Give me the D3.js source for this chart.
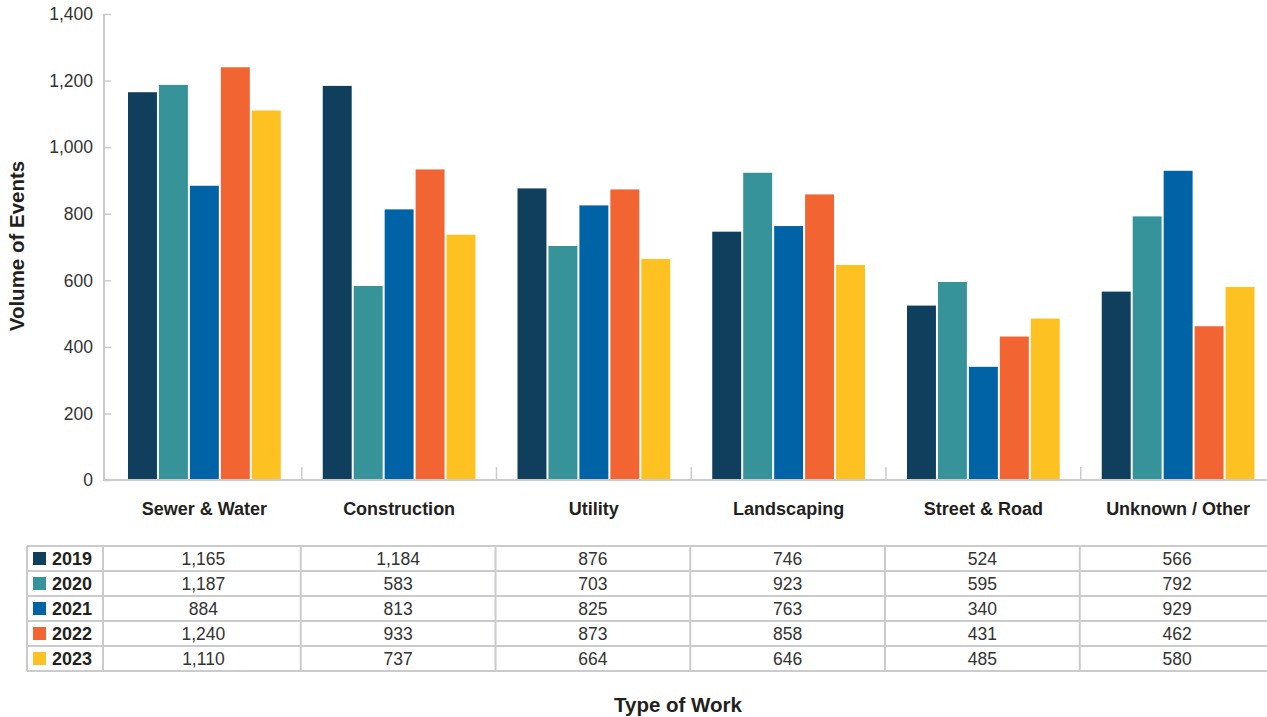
<!DOCTYPE html>
<html>
<head>
<meta charset='UTF-8'>
<title>Volume of Events by Type of Work</title>
<script src='https://cdn.jsdelivr.net/npm/d3@7'></script>
<style type='text/css'>
    body { margin: 0; background: #fff; }
    text { font-family: "Liberation Sans", Arial, Helvetica, sans-serif; fill: #231f20; }
</style>
</head>
<body>
<div id="container"></div>
<script>
// data
var categories = ["Sewer & Water", "Construction", "Utility", "Landscaping", "Street & Road", "Unknown / Other"];
var years = ["2019", "2020", "2021", "2022", "2023"];
var v2019 = [1165, 1184, 876, 746, 524, 566];
var v2020 = [1187, 583, 703, 923, 595, 792];
var v2021 = [884, 813, 825, 763, 340, 929];
var v2022 = [1240, 933, 873, 858, 431, 462];
var v2023 = [1110, 737, 664, 646, 485, 580];
var yTicks = [0, 200, 400, 600, 800, 1000, 1200, 1400];
var colors = ["#0f3f5c", "#37939a", "#0063a6", "#f26532", "#fdc121"];

var series = [v2019, v2020, v2021, v2022, v2023];
var rows = [];
years.forEach(function(y, i) {
    categories.forEach(function(c, j) {
        rows.push({year: y, cat: c, value: series[i][j], yi: i});
    });
});

var width = 1267, height = 717;
var gridColor = "#cbcbce";
var fmt = d3.format(",");

var svg = d3.select("#container").append("svg")
    .attr("width", width)
    .attr("height", height);

// scales
var x = d3.scaleBand()
    .domain(categories)
    .range([107, 1275.5]);

var x1 = d3.scaleBand()
    .domain(years)
    .range([21, x.bandwidth() - 21])
    .paddingInner(0.065);

var y = d3.scaleLinear()
    .domain([0, 1400])
    .range([480, 14]);

// bars
svg.append("g").selectAll("rect")
    .data(rows)
    .enter().append("rect")
    .attr("x", function(d) { return x(d.cat) + x1(d.year); })
    .attr("y", function(d) { return y(d.value); })
    .attr("width", x1.bandwidth())
    .attr("height", function(d) { return y(0) - y(d.value); })
    .attr("fill", function(d) { return colors[d.yi]; });

// y axis
var yAxis = svg.append("g")
    .attr("transform", "translate(104,0)")
    .call(d3.axisRight(y).tickValues(yTicks).tickSize(7).tickFormat(""));
yAxis.select(".domain").attr("stroke", gridColor).attr("stroke-width", 2).attr("d", "M0," + y(1400) + "V" + y(0));
yAxis.selectAll(".tick line").attr("stroke", gridColor).attr("stroke-width", 1.5);

svg.append("g").selectAll("text")
    .data(yTicks)
    .enter().append("text")
    .attr("x", 93)
    .attr("y", function(d) { return y(d); })
    .attr("dy", "0.36em")
    .attr("text-anchor", "end")
    .style("font-size", "17.5px")
    .style("fill", "#333")
    .text(function(d) { return fmt(d); });

// x axis baseline and category separators
svg.append("line")
    .attr("x1", 103).attr("x2", width)
    .attr("y1", y(0)).attr("y2", y(0))
    .attr("stroke", gridColor).attr("stroke-width", 2);

svg.append("g").selectAll("line")
    .data(categories.slice(1))
    .enter().append("line")
    .attr("x1", function(d) { return x(d); })
    .attr("x2", function(d) { return x(d); })
    .attr("y1", y(0) - 13)
    .attr("y2", y(0))
    .attr("stroke", gridColor).attr("stroke-width", 1.5);

svg.append("g").selectAll("text")
    .data(categories)
    .enter().append("text")
    .attr("x", function(d) { return x(d) + x.bandwidth() / 2; })
    .attr("y", 515)
    .attr("text-anchor", "middle")
    .style("font-size", "18px")
    .style("font-weight", "bold")
    .text(function(d) { return d; });

// axis titles
svg.append("text")
    .attr("transform", "translate(24,246) rotate(-90)")
    .attr("text-anchor", "middle")
    .style("font-size", "20.5px")
    .style("font-weight", "bold")
    .text("Volume of Events");

svg.append("text")
    .attr("x", 678)
    .attr("y", 712)
    .attr("text-anchor", "middle")
    .style("font-size", "20.5px")
    .style("font-weight", "bold")
    .text("Type of Work");

// data table
var tableTop = 546, rowH = 25, tableLeft = 27;
var table = svg.append("g");
var rowY = d3.range(years.length + 1).map(function(i) { return tableTop + i * rowH; });

table.selectAll("line.h")
    .data(rowY)
    .enter().append("line")
    .attr("class", "h")
    .attr("x1", tableLeft).attr("x2", width)
    .attr("y1", function(d) { return d; })
    .attr("y2", function(d) { return d; })
    .attr("stroke", gridColor).attr("stroke-width", 2);

var colEdges = [tableLeft, 103].concat(categories.slice(1).map(function(c) { return x(c) - 1; }));
table.selectAll("line.v")
    .data(colEdges)
    .enter().append("line")
    .attr("class", "v")
    .attr("x1", function(d) { return d; })
    .attr("x2", function(d) { return d; })
    .attr("y1", tableTop)
    .attr("y2", tableTop + years.length * rowH)
    .attr("stroke", gridColor).attr("stroke-width", 2);

// legend column
var legendRows = table.selectAll("g.legend")
    .data(years)
    .enter().append("g")
    .attr("class", "legend")
    .attr("transform", function(d, i) { return "translate(0," + (tableTop + i * rowH) + ")"; });

legendRows.append("rect")
    .attr("x", 33).attr("y", 6)
    .attr("width", 13).attr("height", 13)
    .attr("fill", function(d, i) { return colors[i]; });

legendRows.append("text")
    .attr("x", 52)
    .attr("y", rowH / 2)
    .attr("dy", "0.38em")
    .style("font-size", "18px")
    .style("font-weight", "bold")
    .text(function(d) { return d; });

// values
table.selectAll("text.val")
    .data(rows)
    .enter().append("text")
    .attr("class", "val")
    .attr("x", function(d) { return x(d.cat) + x.bandwidth() / 2 - 1; })
    .attr("y", function(d) { return tableTop + d.yi * rowH + rowH / 2; })
    .attr("dy", "0.38em")
    .attr("text-anchor", "middle")
    .style("font-size", "17.5px")
    .style("fill", "#333")
    .text(function(d) { return fmt(d.value); });
</script>
</body>
</html>
